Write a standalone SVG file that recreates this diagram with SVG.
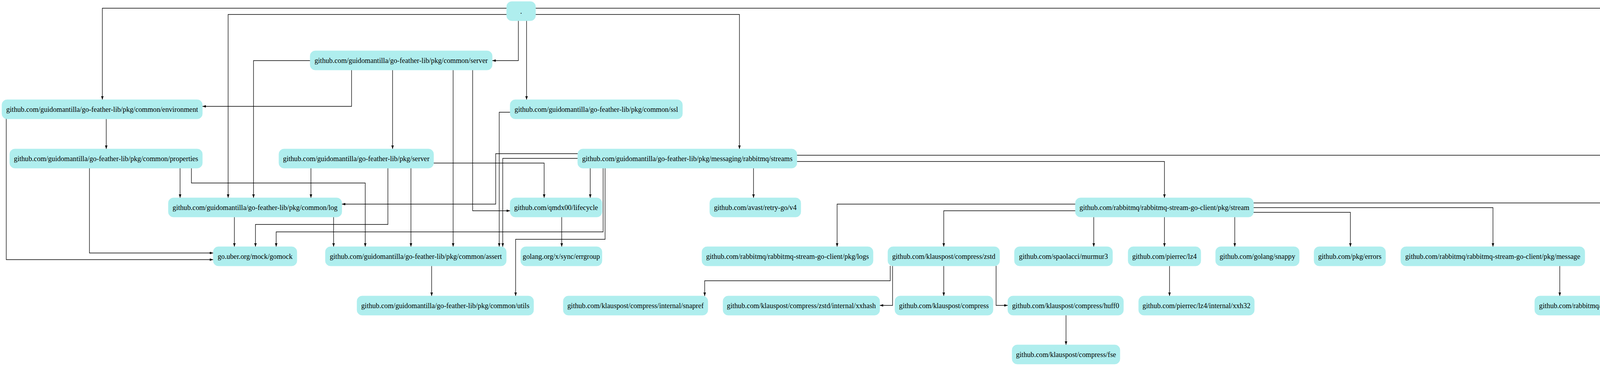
<svg xmlns="http://www.w3.org/2000/svg" width="4384" height="936" viewBox="0 0 4384 936">
<style>
.node rect{fill:#afeeee;stroke:#afeeee;stroke-width:1}
.node text{font-family:"Liberation Serif","Times New Roman",serif;font-size:18.2px;fill:#000;text-anchor:middle}
#edges polyline{fill:none;stroke:#000;stroke-width:1.3;marker-end:url(#arr)}
</style>
<defs>
<marker id="arr" markerUnits="userSpaceOnUse" viewBox="0 0 10 7" markerWidth="9" markerHeight="6.3" refX="10" refY="3.5" orient="auto">
<path d="M0,0 L10,3.5 L0,7 z" fill="#000"/>
</marker>
</defs>
<rect width="4384" height="936" fill="#fff"/>
<g id="edges">
<polyline points="1297,21 262,21 262,255"/>
<polyline points="1297,37 584,37 584,506"/>
<polyline points="1327,53 1327,155 1260,155"/>
<polyline points="1348,53 1348,255"/>
<polyline points="1371,37 1893,37 1893,381"/>
<polyline points="1371,21 4298,21 4298,757"/>
<polyline points="794,155 649,155 649,506"/>
<polyline points="900,179 900,272 518,272"/>
<polyline points="1005,179 1005,381"/>
<polyline points="1160,179 1160,631"/>
<polyline points="1210,179 1210,539 1306,539"/>
<polyline points="1306,287 1278,287 1278,631"/>
<polyline points="16,304 16,664 546,664"/>
<polyline points="272,304 272,381"/>
<polyline points="229,429 229,647 546,647"/>
<polyline points="461,429 461,506"/>
<polyline points="490,429 490,468 935,468 935,631"/>
<polyline points="1110,417 1393,417 1393,506"/>
<polyline points="796,429 796,506"/>
<polyline points="993,429 993,574 654,574 654,631"/>
<polyline points="1052,429 1052,631"/>
<polyline points="1479,393 1269,393 1269,522 875,522"/>
<polyline points="1479,405 1287,405 1287,631"/>
<polyline points="1544,429 1544,593 707,593 707,631"/>
<polyline points="1549,429 1549,612 1320,612 1320,757"/>
<polyline points="1511,429 1511,506"/>
<polyline points="1929,429 1929,506"/>
<polyline points="2040,397 4218,397 4218,757"/>
<polyline points="2040,413 2981,413 2981,506"/>
<polyline points="600,555 600,631"/>
<polyline points="854,555 854,631"/>
<polyline points="1105,680 1105,757"/>
<polyline points="1438,555 1438,631"/>
<polyline points="2753,522 2143,522 2143,631"/>
<polyline points="2753,539 2416,539 2416,631"/>
<polyline points="2800,555 2800,631"/>
<polyline points="2981,555 2981,631"/>
<polyline points="3161,555 3161,631"/>
<polyline points="3209,543 3457,543 3457,631"/>
<polyline points="3209,531 3822,531 3822,631"/>
<polyline points="3209,519 4137,519 4137,757"/>
<polyline points="2279,680 2279,718 1804,718 1804,757"/>
<polyline points="2285,680 2285,781 2252,781"/>
<polyline points="2416,680 2416,757"/>
<polyline points="2550,680 2550,781 2580,781"/>
<polyline points="2729,806 2729,882"/>
<polyline points="2994,680 2994,757"/>
<polyline points="3993,680 3993,757"/>
</g>
<g id="root" class="node"><rect x="1297" y="4" width="74" height="49" rx="13"/><text x="1334" y="34.5">.</text></g>
<g id="server" class="node"><rect x="794" y="130" width="466" height="49" rx="13"/><text x="1027" y="160.5">github.com/guidomantilla/go-feather-lib/pkg/common/server</text></g>
<g id="environment" class="node"><rect x="5" y="255" width="513" height="49" rx="13"/><text x="261.5" y="285.5">github.com/guidomantilla/go-feather-lib/pkg/common/environment</text></g>
<g id="ssl" class="node"><rect x="1306" y="255" width="441" height="49" rx="13"/><text x="1526.5" y="285.5">github.com/guidomantilla/go-feather-lib/pkg/common/ssl</text></g>
<g id="properties" class="node"><rect x="25" y="381" width="493" height="49" rx="13"/><text x="271.5" y="411.5">github.com/guidomantilla/go-feather-lib/pkg/common/properties</text></g>
<g id="pkgserver" class="node"><rect x="714" y="381" width="396" height="49" rx="13"/><text x="912" y="411.5">github.com/guidomantilla/go-feather-lib/pkg/server</text></g>
<g id="streams" class="node"><rect x="1479" y="381" width="561" height="49" rx="13"/><text x="1759.5" y="411.5">github.com/guidomantilla/go-feather-lib/pkg/messaging/rabbitmq/streams</text></g>
<g id="log" class="node"><rect x="431" y="506" width="444" height="49" rx="13"/><text x="653" y="536.5">github.com/guidomantilla/go-feather-lib/pkg/common/log</text></g>
<g id="lifecycle" class="node"><rect x="1306" y="506" width="235" height="49" rx="13"/><text x="1423.5" y="536.5">github.com/qmdx00/lifecycle</text></g>
<g id="retry" class="node"><rect x="1817" y="506" width="233" height="49" rx="13"/><text x="1933.5" y="536.5">github.com/avast/retry-go/v4</text></g>
<g id="stream" class="node"><rect x="2753" y="506" width="456" height="49" rx="13"/><text x="2981" y="536.5">github.com/rabbitmq/rabbitmq-stream-go-client/pkg/stream</text></g>
<g id="gomock" class="node"><rect x="546" y="631" width="214" height="49" rx="13"/><text x="653" y="661.5">go.uber.org/mock/gomock</text></g>
<g id="assert" class="node"><rect x="833" y="631" width="463" height="49" rx="13"/><text x="1064.5" y="661.5">github.com/guidomantilla/go-feather-lib/pkg/common/assert</text></g>
<g id="errgroup" class="node"><rect x="1333" y="631" width="208" height="49" rx="13"/><text x="1437" y="661.5">golang.org/x/sync/errgroup</text></g>
<g id="logs" class="node"><rect x="1797" y="631" width="438" height="49" rx="13"/><text x="2016" y="661.5">github.com/rabbitmq/rabbitmq-stream-go-client/pkg/logs</text></g>
<g id="zstd" class="node"><rect x="2273" y="631" width="286" height="49" rx="13"/><text x="2416" y="661.5">github.com/klauspost/compress/zstd</text></g>
<g id="murmur3" class="node"><rect x="2597" y="631" width="251" height="49" rx="13"/><text x="2722.5" y="661.5">github.com/spaolacci/murmur3</text></g>
<g id="lz4" class="node"><rect x="2888" y="631" width="186" height="49" rx="13"/><text x="2981" y="661.5">github.com/pierrec/lz4</text></g>
<g id="snappy" class="node"><rect x="3112" y="631" width="214" height="49" rx="13"/><text x="3219" y="661.5">github.com/golang/snappy</text></g>
<g id="errors" class="node"><rect x="3364" y="631" width="183" height="49" rx="13"/><text x="3455.5" y="661.5">github.com/pkg/errors</text></g>
<g id="message" class="node"><rect x="3586" y="631" width="471" height="49" rx="13"/><text x="3821.5" y="661.5">github.com/rabbitmq/rabbitmq-stream-go-client/pkg/message</text></g>
<g id="utils" class="node"><rect x="914" y="757" width="452" height="49" rx="13"/><text x="1140" y="787.5">github.com/guidomantilla/go-feather-lib/pkg/common/utils</text></g>
<g id="snapref" class="node"><rect x="1442" y="757" width="370" height="49" rx="13"/><text x="1627" y="787.5">github.com/klauspost/compress/internal/snapref</text></g>
<g id="xxhash" class="node"><rect x="1851" y="757" width="401" height="49" rx="13"/><text x="2051.5" y="787.5">github.com/klauspost/compress/zstd/internal/xxhash</text></g>
<g id="compress" class="node"><rect x="2291" y="757" width="251" height="49" rx="13"/><text x="2416.5" y="787.5">github.com/klauspost/compress</text></g>
<g id="huff0" class="node"><rect x="2580" y="757" width="296" height="49" rx="13"/><text x="2728" y="787.5">github.com/klauspost/compress/huff0</text></g>
<g id="xxh32" class="node"><rect x="2915" y="757" width="296" height="49" rx="13"/><text x="3063" y="787.5">github.com/pierrec/lz4/internal/xxh32</text></g>
<g id="amqp" class="node"><rect x="3929" y="757" width="449" height="49" rx="13"/><text x="4153.5" y="787.5">github.com/rabbitmq/rabbitmq-stream-go-client/pkg/amqp</text></g>
<g id="fse" class="node"><rect x="2591" y="882" width="276" height="49" rx="13"/><text x="2729" y="912.5">github.com/klauspost/compress/fse</text></g>
</svg>
